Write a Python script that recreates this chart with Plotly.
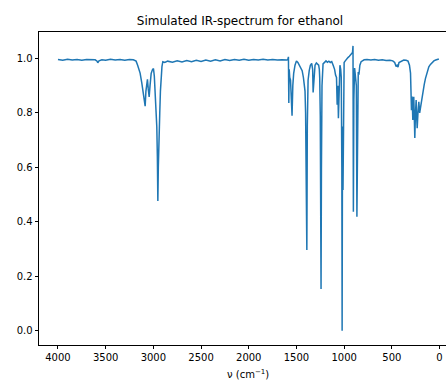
import plotly.graph_objects as go

wavenumber = [4000, 3950, 3900, 3850, 3800, 3750, 3700, 3650, 3610, 3590, 3583, 3570, 3540, 3500, 3450, 3400, 3350, 3300, 3250, 3210,
              3190, 3181, 3165, 3150, 3139, 3121, 3108, 3095, 3086, 3078, 3070, 3062, 3054, 3044, 3035, 3023, 3010, 2999, 2990, 2981,
              2972, 2964, 2958, 2953, 2948, 2944, 2939, 2933, 2926, 2918, 2910, 2901, 2880, 2850, 2800, 2750, 2700, 2650, 2600, 2550,
              2500, 2450, 2400, 2350, 2300, 2250, 2200, 2150, 2100, 2050, 2000, 1950, 1900, 1850, 1800, 1750, 1700, 1650, 1620, 1600,
              1590, 1584, 1580, 1576, 1570, 1562, 1554, 1546, 1538, 1529, 1515, 1500, 1485, 1470, 1455, 1440, 1427, 1418, 1410, 1404,
              1399, 1395, 1391, 1386, 1378, 1366, 1354, 1340, 1330, 1325, 1318, 1305, 1291, 1278, 1267, 1260, 1256, 1250, 1247, 1244,
              1242, 1238, 1232, 1221, 1205, 1190, 1175, 1160, 1145, 1130, 1115, 1100, 1090, 1080, 1073, 1066, 1060, 1052, 1044, 1036,
              1030, 1024, 1021, 1017, 1012, 1008, 1000, 990, 975, 960, 945, 930, 920, 912, 907, 903, 898, 890, 880, 872,
              866, 860, 852, 845, 835, 822, 810, 790, 760, 720, 680, 640, 600, 560, 520, 490, 470, 455, 445, 435,
              425, 410, 395, 375, 350, 330, 315, 304, 294, 287, 280, 275, 270, 264, 259, 252, 245, 240, 234, 226,
              217, 208, 199, 188, 175, 160, 147, 130, 112, 95, 80, 59, 40, 20, 7]

transmittance = [0.996, 0.993, 0.997, 0.994, 0.996, 0.993, 0.996, 0.994, 0.995, 0.990, 0.984, 0.991, 0.995, 0.993, 0.997, 0.994, 0.996, 0.993, 0.996, 0.995,
                 0.992, 0.990, 0.975, 0.960, 0.946, 0.909, 0.880, 0.860, 0.825, 0.880, 0.915, 0.923, 0.890, 0.859, 0.900, 0.945, 0.958, 0.963, 0.935, 0.878,
                 0.810, 0.749, 0.640, 0.477, 0.600, 0.700, 0.640, 0.800, 0.880, 0.940, 0.970, 0.988, 0.985, 0.990, 0.986, 0.991, 0.987, 0.992, 0.988, 0.993,
                 0.989, 0.994, 0.990, 0.995, 0.991, 0.996, 0.992, 0.996, 0.993, 0.997, 0.993, 0.996, 0.994, 0.997, 0.994, 0.996, 0.994, 0.995, 0.993, 0.994,
                 0.996, 1.006, 0.836, 0.960, 0.930, 0.920, 0.870, 0.790, 0.900, 0.945, 0.975, 0.991, 0.985, 0.975, 0.969, 0.955, 0.930, 0.910, 0.880, 0.800,
                 0.400, 0.700, 0.297, 0.750, 0.920, 0.955, 0.975, 0.982, 0.960, 0.875, 0.920, 0.975, 0.983, 0.978, 0.975, 0.960, 0.930, 0.790, 0.230, 0.600,
                 0.154, 0.590, 0.900, 0.980, 0.988, 0.991, 0.986, 0.990, 0.985, 0.988, 0.975, 0.960, 0.939, 0.930, 0.830, 0.900, 0.780, 0.950, 0.975, 0.960,
                 0.930, 0.600, 0.000, 0.750, 0.517, 0.900, 0.985, 0.990, 0.998, 1.003, 1.008, 1.013, 1.018, 1.022, 1.046, 0.437, 0.850, 0.965, 0.930, 0.900,
                 0.419, 0.880, 0.950, 0.940, 0.975, 0.988, 0.991, 0.995, 0.996, 0.994, 0.996, 0.993, 0.995, 0.992, 0.993, 0.991, 0.985, 0.970, 0.975, 0.968,
                 0.985, 0.988, 0.992, 0.994, 0.993, 0.990, 0.975, 0.946, 0.810, 0.860, 0.774, 0.830, 0.859, 0.780, 0.708, 0.800, 0.847, 0.790, 0.744, 0.800,
                 0.841, 0.800, 0.823, 0.850, 0.884, 0.905, 0.927, 0.950, 0.969, 0.978, 0.985, 0.991, 0.994, 0.997, 0.998]

x_ticks = [4000, 3500, 3000, 2500, 2000, 1500, 1000, 500, 0]
y_ticks = [0.0, 0.2, 0.4, 0.6, 0.8, 1.0]

W, H = 446, 381

fig = go.Figure()
fig.add_trace(go.Scatter(x=wavenumber, y=transmittance, mode="lines",
                         line=dict(color="#1f77b4", width=1.5), showlegend=False))

axis_common = dict(showgrid=False, zeroline=False, showline=True, linecolor="black", linewidth=0.8,
                   ticks="outside", ticklen=3.5, tickwidth=0.8, tickcolor="black",
                   tickfont=dict(family="DejaVu Sans", size=10, color="black"))

fig.update_layout(
    width=W, height=H,
    margin=dict(l=39, r=0, t=32, b=36),
    paper_bgcolor="white", plot_bgcolor="white",
    title=dict(text="Simulated IR-spectrum for ethanol", xref="container", yref="container",
               x=240 / W, y=1 - 21 / H, xanchor="center", yanchor="middle",
               font=dict(family="DejaVu Sans", size=12, color="black")),
    xaxis=dict(range=[4199, -68], tickvals=x_ticks, ticktext=[str(v) for v in x_ticks], mirror=True, **axis_common),
    yaxis=dict(range=[-0.052, 1.097], tickvals=y_ticks, tickformat=".1f", mirror=False, **axis_common),
    annotations=[dict(text="ν (cm<sup>−1</sup>)", xref="paper", yref="paper",
                      x=(248 - 39) / (W - 39), y=-(374 - 345) / (H - 68), xanchor="center", yanchor="middle",
                      showarrow=False, font=dict(family="DejaVu Sans", size=10, color="black"))],
)

fig.write_html("out.html", config={"displayModeBar": False},
               post_script="document.body.style.margin='0';document.body.style.overflow='hidden';")
